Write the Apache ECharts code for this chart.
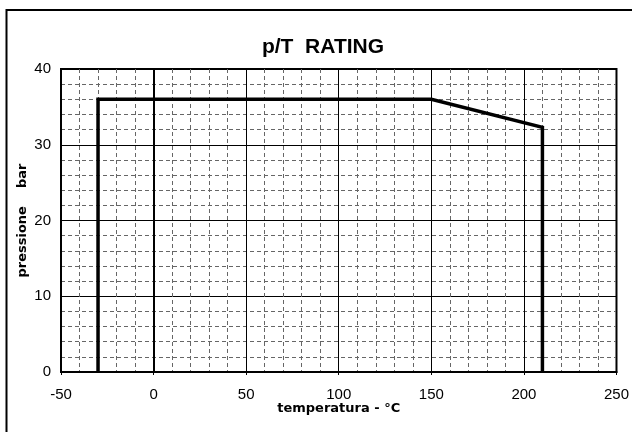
<!DOCTYPE html>
<html>
<head>
<meta charset="utf-8">
<script src="https://cdn.jsdelivr.net/npm/echarts@6/dist/echarts.min.js"></script>
<style>
html,body{margin:0;padding:0;background:#fff;}
#chart{width:632px;height:432px;}
</style>
</head>
<body>
<div id="chart"></div>
<script>
// Data
var titleText = 'p/T  RATING';
var xName = 'temperatura - °C';
var yName = 'pressione    bar';
var temps = [-30, -30, 150, 210, 210];      // °C
var pressures = [0, 36, 36, 32.3, 0];        // bar
var xTicks = [-50, 0, 50, 100, 150, 200, 250];
var yTicks = [0, 10, 20, 30, 40];

var lineData = temps.map(function (t, i) { return [t, pressures[i]]; });

var chart = echarts.init(document.getElementById('chart'), null, {renderer: 'canvas'});
chart.setOption({
  animation: false,
  backgroundColor: '#ffffff',
  title: {
    text: titleText,
    left: 318,
    textAlign: 'center',
    top: 32,
    textStyle: {fontFamily: 'Liberation Sans', fontWeight: 'bold', fontSize: 21, color: '#000'}
  },
  graphic: [{
    type: 'rect',
    shape: {x: 6.5, y: 10, width: 700, height: 500},
    style: {fill: 'none', stroke: '#000', lineWidth: 2},
    silent: true
  }],
  grid: {
    left: 61, right: 15, top: 69, bottom: 60,
    show: true, borderColor: '#000', borderWidth: 2, backgroundColor: 'transparent'
  },
  xAxis: {
    type: 'value',
    min: xTicks[0], max: xTicks[xTicks.length - 1], interval: 50,
    name: xName, nameLocation: 'middle', nameGap: 30, nameMoveOverlap: false,
    nameTextStyle: {fontFamily: 'DejaVu Sans', fontWeight: 'bold', fontSize: 13, color: '#000'},
    axisLine: {show: true, lineStyle: {color: '#000', width: 2}},
    axisTick: {show: true, length: 3, lineStyle: {color: '#000', width: 1}},
    axisLabel: {margin: 15, fontFamily: 'Liberation Sans', fontSize: 15, color: '#000'},
    splitLine: {show: true, lineStyle: {color: '#000', width: 1}},
    minorTick: {show: false, splitNumber: 5},
    minorSplitLine: {show: true, lineStyle: {color: '#666', width: 1, type: [4, 3]}}
  },
  yAxis: {
    type: 'value',
    min: yTicks[0], max: yTicks[yTicks.length - 1], interval: 10,
    name: yName, nameLocation: 'middle', nameGap: 32, nameRotate: 90, nameMoveOverlap: false,
    nameTextStyle: {fontFamily: 'DejaVu Sans', fontWeight: 'bold', fontSize: 13, color: '#000'},
    axisLine: {show: true, lineStyle: {color: '#000', width: 2}},
    axisTick: {show: false},
    axisLabel: {margin: 10, fontFamily: 'Liberation Sans', fontSize: 15, color: '#000'},
    splitLine: {show: true, lineStyle: {color: '#000', width: 1}},
    minorTick: {show: false, splitNumber: 5},
    minorSplitLine: {show: true, lineStyle: {color: '#666', width: 1, type: [4, 3]}}
  },
  series: [{
    type: 'line',
    data: lineData,
    symbol: 'none',
    lineStyle: {color: '#000', width: 3.5, join: 'miter'},
    z: 10
  }]
});
</script>
</body>
</html>
